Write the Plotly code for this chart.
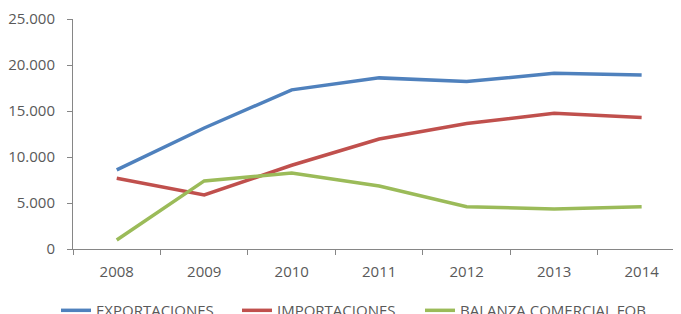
import plotly.graph_objects as go

years = ["2008", "2009", "2010", "2011", "2012", "2013", "2014"]
exportaciones = [8600, 13150, 17300, 18600, 18200, 19100, 18900]
importaciones = [7680, 5870, 9100, 11950, 13650, 14750, 14300]
balanza = [980, 7400, 8250, 6850, 4600, 4350, 4600]
names = ["EXPORTACIONES", "IMPORTACIONES", "BALANZA COMERCIAL FOB"]
colors = ["#4F81BD", "#C0504D", "#9BBB59"]
legend_ids = ["legend", "legend2", "legend3"]
legend_x = [-0.028, 0.2697, 0.5707]

fig = go.Figure()
for name, vals, col, lid in zip(names, [exportaciones, importaciones, balanza], colors, legend_ids):
    fig.add_trace(go.Scatter(x=years, y=vals, name=name, mode="lines", legend=lid,
                             line=dict(color=col, width=3.5)))

font = dict(family="Open Sans, Noto Sans, sans-serif", size=15, color="#595959")
legends = {}
for lid, lx in zip(legend_ids, legend_x):
    legends[lid] = dict(orientation="h", x=lx, xanchor="left", y=-0.196, yanchor="top",
                        font=font, itemwidth=30, bgcolor="rgba(0,0,0,0)")

# page body has an 8px margin; figure is sized/offset to compensate
fig.update_layout(
    width=673, height=306,
    margin=dict(l=65, r=0, t=11, b=65, autoexpand=False),
    paper_bgcolor="white", plot_bgcolor="white",
    separators=",.",
    font=font,
    showlegend=True,
    xaxis=dict(type="category", range=[-0.5, 6.45], tickson="boundaries",
               showline=True, linecolor="#868686", linewidth=1,
               ticks="outside", ticklen=5, tickcolor="#868686",
               showgrid=False, zeroline=False, ticklabelstandoff=9,
               automargin=False),
    yaxis=dict(range=[0, 25000], tickvals=[0, 5000, 10000, 15000, 20000, 25000],
               tickformat=",d",
               showline=True, linecolor="#868686", linewidth=1,
               ticks="outside", ticklen=5, tickcolor="#868686",
               showgrid=False, zeroline=False, ticklabelstandoff=9,
               automargin=False),
    **legends,
)

fig.write_html("out.html")
